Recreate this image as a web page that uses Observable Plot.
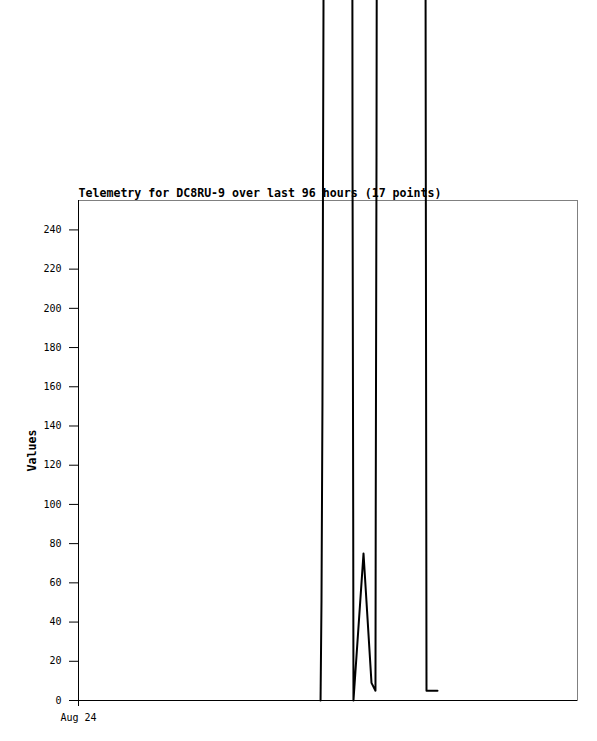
<!DOCTYPE html>
<html>
<head>
<meta charset="utf-8">
<script src="https://cdn.jsdelivr.net/npm/d3@7"></script>
<script src="https://cdn.jsdelivr.net/npm/@observablehq/plot@0.6"></script>
<style>
  html, body { margin: 0; padding: 0; background: white; }
</style>
</head>
<body>
<div id="chart"></div>
<script>
// ---- data ----
const titleText = "Telemetry for DC8RU-9 over last 96 hours (17 points)";
const yLabel = "Values";
const xStart = "2024-08-24T00:00Z";
const xEnd = "2024-08-28T00:00Z";
const xTickLabels = ["Aug 24"];
const yTicks = [0, 20, 40, 60, 80, 100, 120, 140, 160, 180, 200, 220, 240];
const yMax = 255;

const times = [
  "2024-08-25T22:34Z", "2024-08-25T22:45Z", "2024-08-25T22:56Z", "2024-08-25T23:02Z",
  "2024-08-25T23:08Z", "2024-08-26T01:50Z", "2024-08-26T04:43Z", "2024-08-26T04:51Z",
  "2024-08-26T04:54Z", "2024-08-26T06:50Z", "2024-08-26T08:22Z", "2024-08-26T09:08Z",
  "2024-08-26T09:11Z", "2024-08-26T09:20Z", "2024-08-26T13:57Z", "2024-08-26T18:57Z",
  "2024-08-26T21:04Z"
];
const values = [0, 51, 152, 259, 355, 9999, 277, 93, 0, 75, 9, 5, 97, 280, 9999, 5, 5];

const data = times.map((t, i) => ({t: new Date(t), v: values[i]}));
const x0 = new Date(xStart), x1 = new Date(xEnd);

const mono = "'DejaVu Sans Mono', 'Liberation Mono', monospace";

const chart = Plot.plot({
  width: 597,
  height: 741,
  marginTop: 200,
  marginBottom: 41,
  marginLeft: 78,
  marginRight: 20,
  style: {fontFamily: mono, fontSize: "10px", background: "white", color: "black"},
  x: {type: "utc", domain: [x0, x1], axis: null},
  y: {domain: [0, yMax], axis: null},
  marks: [
    Plot.frame({stroke: "#808080", strokeOpacity: 1}),
    Plot.ruleX([x0], {stroke: "black"}),
    Plot.ruleY([0], {stroke: "black"}),
    Plot.axisY({ticks: yTicks, tickSize: 9, tickPadding: 8, label: null, stroke: "black", fontSize: 10}),
    Plot.axisX({ticks: [x0], tickFormat: (d, i) => xTickLabels[i], tickSize: 6, tickPadding: 7, label: null, stroke: "black", fontSize: 10}),
    Plot.text([yLabel], {frameAnchor: "left", dx: -46, rotate: -90, textAnchor: "middle", lineAnchor: "middle", fontWeight: "bold", fontSize: 11.6, fill: "black"}),
    Plot.text([titleText], {frameAnchor: "top-left", dy: -4, lineAnchor: "bottom", textAnchor: "start", fontWeight: "bold", fontSize: 11.6, fill: "black"}),
    Plot.line(data, {x: "t", y: "v", stroke: "black", strokeWidth: 2, curve: "linear"})
  ]
});
document.getElementById("chart").appendChild(chart);
</script>
</body>
</html>
